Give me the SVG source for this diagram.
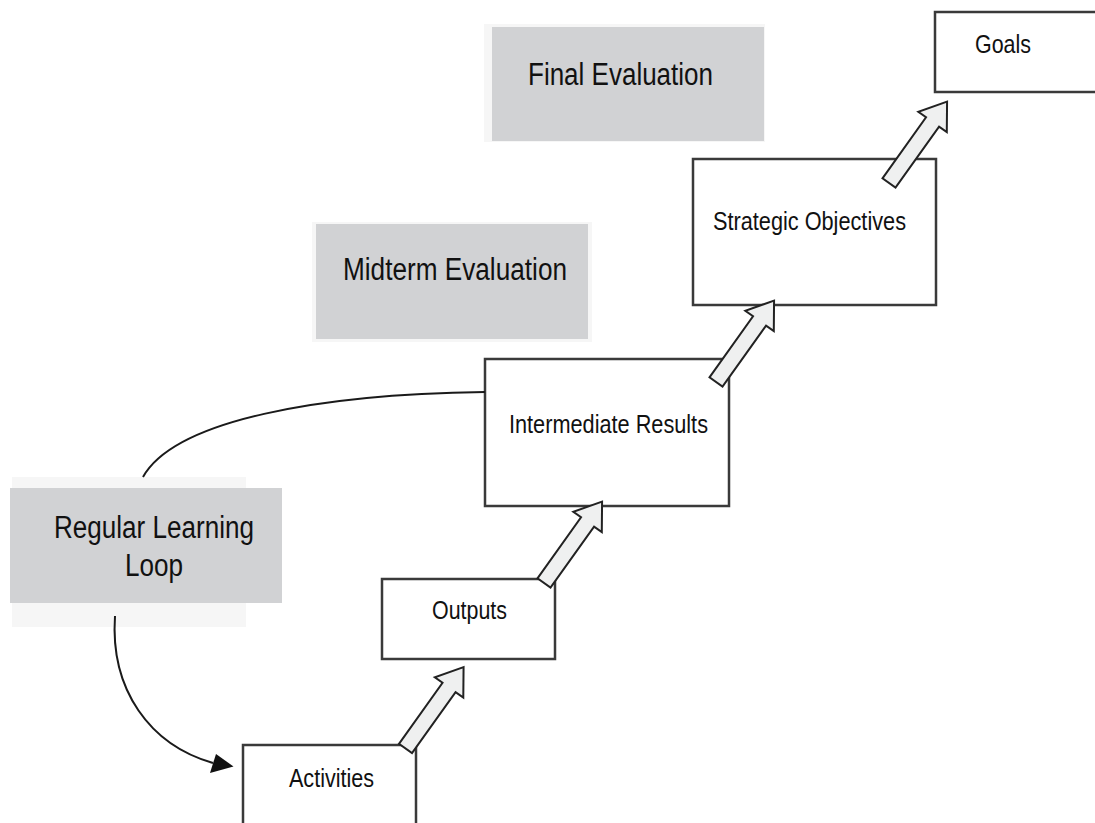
<svg xmlns="http://www.w3.org/2000/svg" xmlns:xlink="http://www.w3.org/1999/xlink" width="1095" height="823" viewBox="0 0 1095 823">
<style>
.box{fill:#ffffff;stroke:#3a3a3a;stroke-width:2.5}
.shadow{fill:#f6f6f6}
.gray{fill:#d1d2d4}
.t{font-family:"Liberation Sans",Arial,sans-serif;fill:#111111}
.bt{font-size:26px}
.gt{font-size:31px}
.curve{fill:none;stroke:#1a1a1a;stroke-width:2}
.blk{fill:#eff0f0;stroke:#222222;stroke-width:2;stroke-linejoin:miter}
</style>
<defs>
<path id="blk" class="blk" d="M0,-8 H75 V-17.5 L100,0 L75,17.5 V8 H0 Z"/>
</defs>
<rect width="1095" height="823" fill="#ffffff"/>
<g id="final-evaluation">
<rect class="shadow" x="484" y="24" width="281" height="118"/>
<rect class="gray" x="492" y="27" width="272" height="114"/>
<text class="t gt" x="528" y="85" textLength="185" lengthAdjust="spacingAndGlyphs">Final Evaluation</text>
</g>
<g id="midterm-evaluation">
<rect class="shadow" x="312" y="222" width="280" height="120"/>
<rect class="gray" x="316" y="224" width="272" height="115"/>
<text class="t gt" x="343" y="280" textLength="224" lengthAdjust="spacingAndGlyphs">Midterm Evaluation</text>
</g>
<g id="regular-learning-loop">
<rect class="shadow" x="12" y="477" width="234" height="150"/>
<rect class="gray" x="10" y="488" width="272" height="115"/>
<text class="t gt" x="54" y="538" textLength="200" lengthAdjust="spacingAndGlyphs">Regular Learning</text>
<text class="t gt" x="125" y="576" textLength="58" lengthAdjust="spacingAndGlyphs">Loop</text>
</g>
<g id="goals">
<rect class="box" x="935" y="12" width="175" height="80"/>
<text class="t bt" x="975" y="53" textLength="56" lengthAdjust="spacingAndGlyphs">Goals</text>
</g>
<g id="strategic-objectives">
<rect class="box" x="693" y="159" width="243" height="146"/>
<text class="t bt" x="713" y="230" textLength="193" lengthAdjust="spacingAndGlyphs">Strategic Objectives</text>
</g>
<g id="intermediate-results">
<rect class="box" x="485" y="359" width="244" height="147"/>
<text class="t bt" x="509" y="433" textLength="199" lengthAdjust="spacingAndGlyphs">Intermediate Results</text>
</g>
<g id="outputs">
<rect class="box" x="382" y="579" width="173" height="80"/>
<text class="t bt" x="432" y="619" textLength="75" lengthAdjust="spacingAndGlyphs">Outputs</text>
</g>
<g id="activities">
<rect class="box" x="243" y="745" width="173" height="95"/>
<text class="t bt" x="289" y="787" textLength="85" lengthAdjust="spacingAndGlyphs">Activities</text>
</g>
<g id="connectors">
<path class="curve" d="M485,392 C320,394 175,420 143,477"/>
<path class="curve" d="M115,616 C110,690 150,745 213,763"/>
<polygon points="233.5,766.5 216,754 210,773" fill="#111111"/>
<use xlink:href="#blk" transform="translate(405.5,748.5) rotate(-54.5)"/>
<use xlink:href="#blk" transform="translate(544,583) rotate(-54.5)"/>
<use xlink:href="#blk" transform="translate(716,382) rotate(-54.5)"/>
<use xlink:href="#blk" transform="translate(889,183) rotate(-54.5)"/>
</g>
</svg>
